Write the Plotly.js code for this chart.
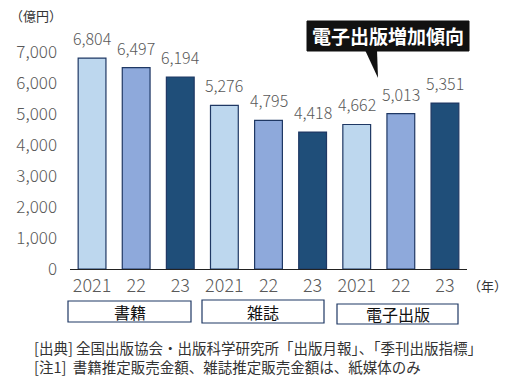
<!DOCTYPE html>
<html><head><meta charset="utf-8">
<script src="https://cdn.plot.ly/plotly-3.0.1.min.js"></script>
<style>html,body{margin:0;padding:0;background:#fff}#chart{width:519px;height:381px}</style>
</head><body><div id="chart"></div>
<script>
const years = ["2021","22","23","2021","22","23","2021","22","23"];
const groups = ["書籍","雑誌","電子出版"];
const values = [6804, 6497, 6194, 5276, 4795, 4418, 4662, 5013, 5351];
const yearColors = ["#BDD7EE", "#8EA9DB", "#1F4E79"];
const yTicks = [0,1000,2000,3000,4000,5000,6000,7000];
const notes = ["[出典] 全国出版協会・出版科学研究所「出版月報」、「季刊出版指標」",
               "[注1]  書籍推定販売金額、雑誌推定販売金額は、紙媒体のみ"];

const xIdx = values.map((v,i)=>i);
const font = "Noto Sans CJK JP, Noto Sans, sans-serif";

const trace = {
  type: 'bar', x: xIdx, y: values,
  marker: {color: xIdx.map(i=>yearColors[i%3]), line:{color:'#1F3864', width:1.2}},
  width: 0.63, hoverinfo: 'none'
};

const annotations = values.map((v,i)=>({
  x: i, y: v, xref:'x', yref:'y', text: v.toLocaleString('en-US'),
  showarrow:false, yshift: 20, font:{family:font, size:16, color:'#595959', weight:300}
}));

const px = p => (p-70)/397, py = p => (269-p)/248;
const boxes = [[68,191,301,322],[202,324,300,323],[337,458,304,324]];
const shapes = [];
boxes.forEach((b,k)=>{
  shapes.push({type:'rect', xref:'paper', yref:'paper', x0:px(b[0]), x1:px(b[1]), y0:py(b[2]), y1:py(b[3]),
    line:{color:'#1F3864', width:1.2}, fillcolor:'rgba(0,0,0,0)'});
  annotations.push({xref:'paper', yref:'paper', x:px((b[0]+b[1])/2), y:py((b[2]+b[3])/2), text:groups[k],
    showarrow:false, xanchor:'center', yanchor:'middle', font:{family:font, size:16, color:'#111'}});
});
// callout
shapes.push({type:'rect', xref:'paper', yref:'paper', x0:px(307), x1:px(469), y0:py(21), y1:py(51),
  line:{color:'#111', width:1}, fillcolor:'#111'});
shapes.push({type:'path', xref:'paper', yref:'paper',
  path:`M ${px(365)} ${py(50)} L ${px(377)} ${py(50)} L ${px(378)} ${py(78)} Z`,
  line:{width:0}, fillcolor:'#111'});
annotations.push({xref:'paper', yref:'paper', x:px(388), y:py(36), text:'<b>電子出版増加傾向</b>', showarrow:false,
  xanchor:'center', yanchor:'middle', font:{family:font, size:19, color:'#fff'}});
annotations.push({xref:'paper', yref:'paper', x:px(36), y:py(16), text:'（億円）', showarrow:false,
  xanchor:'center', yanchor:'middle', font:{family:font, size:13, color:'#333'}});
annotations.push({xref:'paper', yref:'paper', x:px(487), y:py(285), text:'（年）', showarrow:false,
  xanchor:'center', yanchor:'middle', font:{family:font, size:13, color:'#333'}});
notes.forEach((t,k)=>annotations.push({xref:'paper', yref:'paper', x:px(33), y:py(347+k*20), text:t, showarrow:false,
  xanchor:'left', yanchor:'middle', align:'left', borderpad:0, font:{family:font, size:14.5, color:'#333'}}));

const layout = {
  width:519, height:381, margin:{l:70, r:52, t:21, b:112},
  paper_bgcolor:'#fff', plot_bgcolor:'#fff', showlegend:false,
  xaxis:{range:[-0.5,8.5], tickvals:xIdx, ticktext:years, showline:true, linecolor:'#222', linewidth:1.2,
    ticks:'', showgrid:false, zeroline:false, tickfont:{family:font, size:18, color:'#595959', weight:300}, fixedrange:true},
  yaxis:{range:[0,8000], tickvals:yTicks, ticktext:yTicks.map(v=>v.toLocaleString('en-US')), showgrid:false,
    zeroline:false, showline:false, ticks:'', ticklabelstandoff:12,
    tickfont:{family:font, size:17, color:'#595959', weight:300}, fixedrange:true},
  shapes, annotations, bargap:0.37
};
Plotly.newPlot('chart', [trace], layout, {displayModeBar:false, staticPlot:true});
</script></body></html>
